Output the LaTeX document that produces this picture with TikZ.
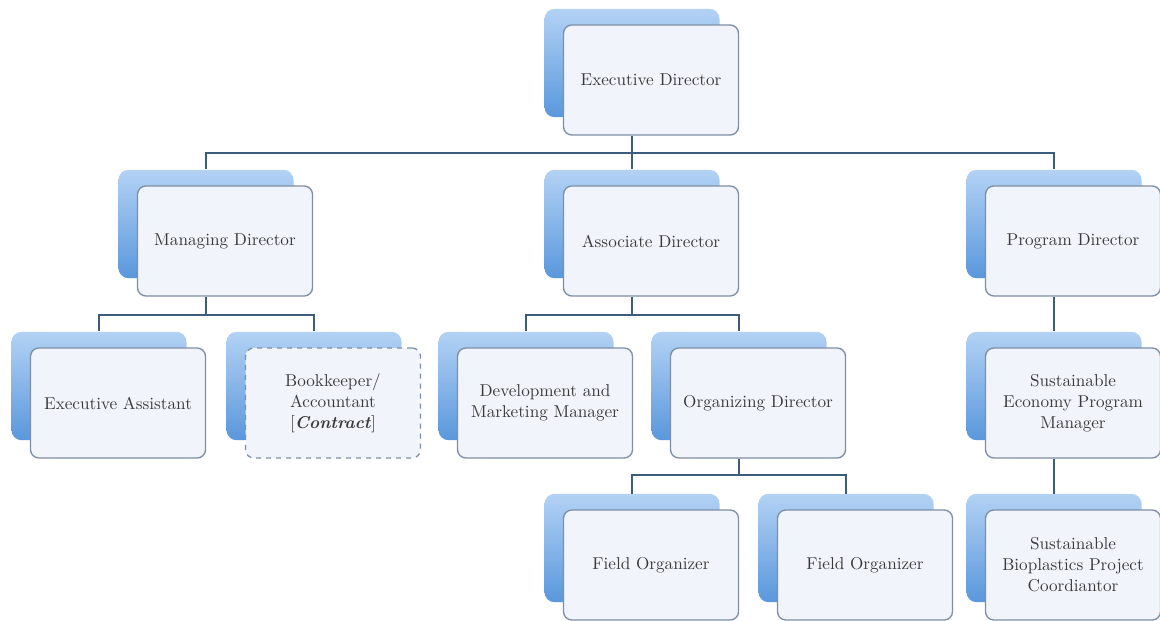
\documentclass[tikz,border=0pt]{standalone}
\usetikzlibrary{calc}
\definecolor{linec}{HTML}{3E5C7C}
\definecolor{frontborder}{HTML}{7D8EA6}
\definecolor{frontfill}{HTML}{F1F5FB}
\definecolor{backtop}{HTML}{B3D2F4}
\definecolor{backbot}{HTML}{5A97DC}
\definecolor{txt}{HTML}{3A3A3A}
\tikzset{
  backbox/.style={rounded corners=6pt, top color=backtop, bottom color=backbot,
    minimum width=105pt, minimum height=65pt, inner sep=0pt},
  frontbox/.style={rounded corners=5pt, draw=frontborder, line width=0.8pt,
    fill=frontfill, minimum width=105pt, minimum height=66pt, align=center,
    text=txt, font=\fontsize{10.3}{12.6}\selectfont, inner sep=2pt},
  conn/.style={draw=linec, line width=0.9pt},
}
\newcommand\orgunit[5]{%
  \node[backbox] (#1b) at (#2,#3) {};
  \node[frontbox,#5] (#1) at (#2+19,#3+17) {#4};
}
\begin{document}
\begin{tikzpicture}[x=0.6pt,y=-0.6pt]
\useasboundingbox (0,0) rectangle (1160,621);
\fill[white] (0,0) rectangle (1160,621);

\orgunit{ed}{632}{63}{Executive Director}{}
\orgunit{md}{206}{224}{Managing Director}{}
\orgunit{ad}{632}{224}{Associate Director}{}
\orgunit{pd}{1054}{224}{Program Director}{}
\orgunit{ea}{99}{386}{Executive Assistant}{}
\orgunit{bk}{314}{386}{Bookkeeper/\\Accountant\\{}[\textbf{\textit{Contract}}]}{dashed}
\orgunit{dm}{526}{386}{Development and\\Marketing Manager}{}
\orgunit{od}{739}{386}{Organizing Director}{}
\orgunit{se}{1054}{386}{Sustainable\\Economy Program\\Manager}{}
\orgunit{fa}{632}{548}{Field Organizer}{}
\orgunit{fb}{846}{548}{Field Organizer}{}
\orgunit{sb}{1054}{548}{Sustainable\\Bioplastics Project\\Coordiantor}{}

\coordinate (busa) at (0,153);
\coordinate (busb) at (0,315);
\coordinate (busc) at (0,475);

% level 1
\draw[conn] (adb.north |- ed.south) -- (adb.north);
\draw[conn] (mdb.north) -- (mdb.north |- busa) -- (pdb.north |- busa) -- (pdb.north);
% managing director
\draw[conn] (mdb.north |- md.south) -- (mdb.north |- busb);
\draw[conn] (eab.north) -- (eab.north |- busb) -- (bkb.north |- busb) -- (bkb.north);
% associate director
\draw[conn] (adb.north |- ad.south) -- (adb.north |- busb);
\draw[conn] (dmb.north) -- (dmb.north |- busb) -- (odb.north |- busb) -- (odb.north);
% organizing director
\draw[conn] (odb.north |- od.south) -- (odb.north |- busc);
\draw[conn] (fab.north) -- (fab.north |- busc) -- (fbb.north |- busc) -- (fbb.north);
% program director
\draw[conn] (pdb.north |- pd.south) -- (seb.north);
\draw[conn] (seb.north |- se.south) -- (sbb.north);
\end{tikzpicture}
\end{document}
